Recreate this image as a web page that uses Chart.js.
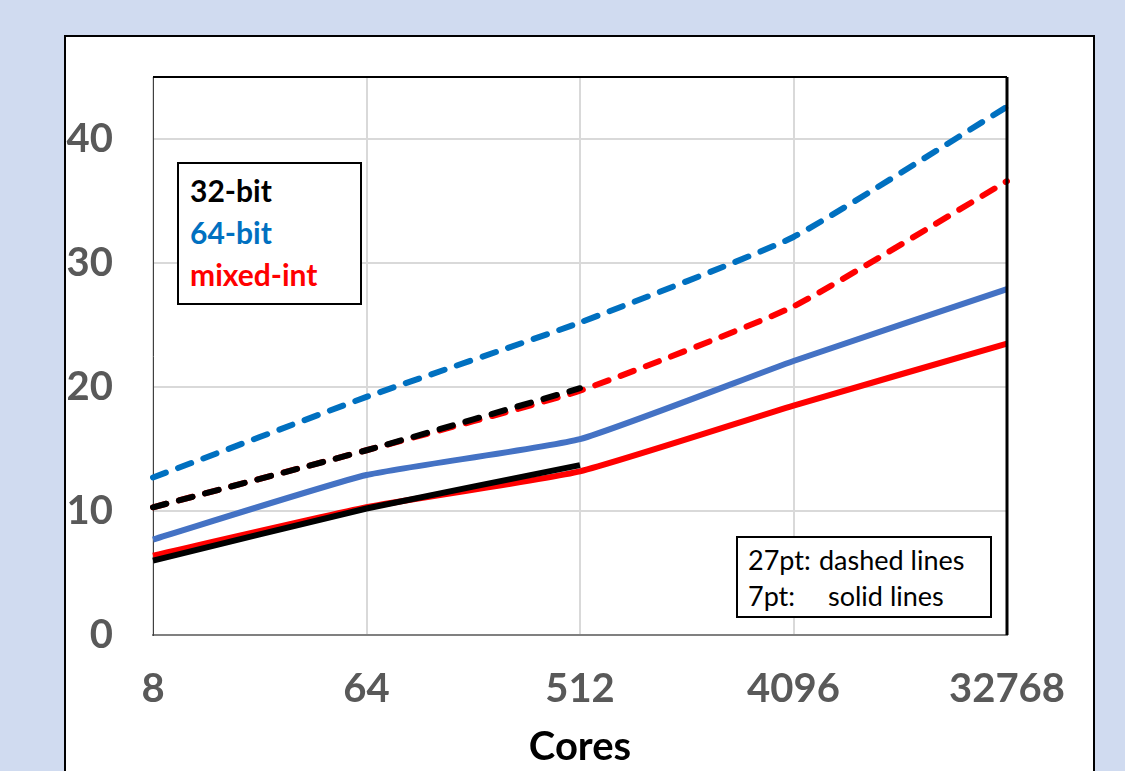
<!DOCTYPE html>
<html lang="en">
<head>
  <meta charset="UTF-8">
  <title>Cores</title>
  <script src="https://cdn.jsdelivr.net/npm/chart.js"></script>
  <style>
    html, body { margin: 0; padding: 0; }
    body { width: 1125px; height: 771px; background: #d0dbf0; position: relative; overflow: hidden; font-family: Lato, sans-serif; }
    .frame { position: absolute; left: 64px; top: 35px; width: 1027px; height: 760px; background: #fff; border: 2px solid #000; }
    #wrap { position: absolute; left: 0; top: 0; width: 1125px; height: 771px; }
    .box { position: absolute; background: #fff; border: 2px solid #000; }
    .leg1 { left: 177px; top: 162px; width: 170px; height: 130px; padding: 5px 0 4px 11px; font-weight: bold; font-size: 30px; line-height: 42px; }
    .leg2 { left: 736px; top: 536px; width: 242px; height: 70px; padding: 4px 0 4px 10px; font-size: 27px; line-height: 36px; color: #000; white-space: nowrap; }
    .leg2 span { display: inline-block; }
  </style>
</head>
<body>
  <div class="frame"></div>
  <div id="wrap"><canvas id="c"></canvas></div>
  <div class="box leg1">
    <div style="color:#000">32-bit</div>
    <div style="color:#0070c0">64-bit</div>
    <div style="color:#ff0000">mixed-int</div>
  </div>
  <div class="box leg2">
    <div><span style="width:71px">27pt:</span>dashed lines</div>
    <div><span style="width:80px">7pt:</span>solid lines</div>
  </div>
  <script>
    var cores = ['8', '64', '512', '4096', '32768'];
    var yTicks = [0, 10, 20, 30, 40];

    // 27pt (dashed) and 7pt (solid) runs
    var bit32_27 = [10.3, 14.9, 19.9, null, null];
    var bit32_7 = [6.0, 10.2, 13.7, null, null];
    var bit64_27 = [12.7, 19.2, 25.2, 32.1, 42.6];
    var bit64_7 = [7.7, 12.9, 15.8, 22.1, 27.9];
    var mixed_27 = [10.3, 14.9, 19.7, 26.5, 36.6];
    var mixed_7 = [6.4, 10.3, 13.2, 18.5, 23.5];

    function dashed(label, data, color) {
      return { label: label, data: data, borderColor: color, borderWidth: 6, borderDash: [14, 13],
        borderCapStyle: 'round', pointRadius: 0, tension: 0.15, fill: false, spanGaps: false };
    }
    function solid(label, data, color) {
      return { label: label, data: data, borderColor: color, borderWidth: 6,
        borderCapStyle: 'butt', pointRadius: 0, tension: 0.15, fill: false, spanGaps: false };
    }

    var plotBorder = {
      id: 'plotBorder',
      afterDraw: function (chart) {
        var a = chart.chartArea, g = chart.ctx;
        g.save();
        g.strokeStyle = '#000';
        g.lineWidth = 2;
        g.beginPath();
        g.moveTo(a.left, a.top); g.lineTo(a.right, a.top);
        g.stroke();
        g.lineWidth = 3;
        g.beginPath();
        g.moveTo(a.right, a.top); g.lineTo(a.right, a.bottom);
        g.stroke();
        g.restore();
      }
    };

    new Chart(document.getElementById('c'), {
      type: 'line',
      data: {
        labels: cores,
        datasets: [
          dashed('32-bit 27pt', bit32_27, '#000000'),
          solid('32-bit 7pt', bit32_7, '#000000'),
          dashed('mixed-int 27pt', mixed_27, '#ff0000'),
          solid('mixed-int 7pt', mixed_7, '#ff0000'),
          dashed('64-bit 27pt', bit64_27, '#0070c0'),
          solid('64-bit 7pt', bit64_7, '#4472c4')
        ]
      },
      options: {
        responsive: true,
        maintainAspectRatio: false,
        animation: false,
        layout: { padding: { left: 0, right: 118, top: 77, bottom: 0 } },
        plugins: { legend: { display: false }, tooltip: { enabled: false } },
        scales: {
          x: {
            offset: false,
            grid: { color: '#d9d9d9', lineWidth: 2, drawTicks: false },
            border: { color: '#808080', width: 2 },
            ticks: { color: '#595959', font: { family: 'Lato', size: 40, weight: 'bold' }, padding: 30, maxRotation: 0 },
            title: { display: true, text: 'Cores', color: '#000', font: { family: 'Lato', size: 40, weight: 'bold' }, padding: { top: -4, bottom: 0 } },
            afterFit: function (s) { s.height = 136; }
          },
          y: {
            min: 0,
            max: 45,
            afterBuildTicks: function (s) { s.ticks = yTicks.map(function (v) { return { value: v }; }); },
            grid: { color: '#d9d9d9', lineWidth: 2, drawTicks: false },
            border: { color: '#404040', width: 1 },
            ticks: { color: '#595959', font: { family: 'Lato', size: 40, weight: 'bold' }, padding: 40 },
            afterFit: function (s) { s.width = 153; }
          }
        }
      },
      plugins: [plotBorder]
    });
  </script>
</body>
</html>
